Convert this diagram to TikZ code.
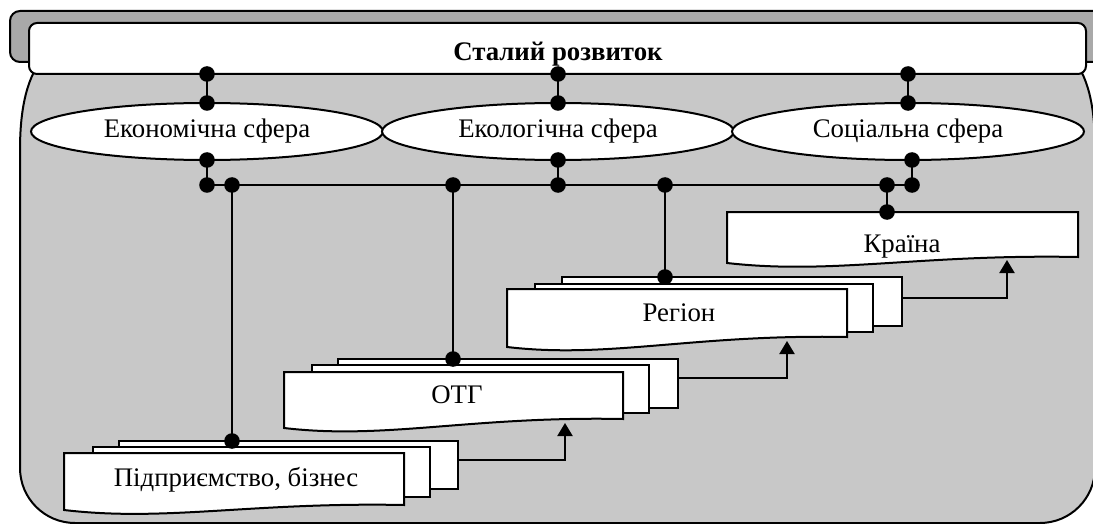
\documentclass[tikz,border=0pt]{standalone}
\usepackage{fontspec}
\setmainfont{Liberation Serif}
\usetikzlibrary{shapes.geometric,arrows.meta,calc}
\definecolor{bodygray}{HTML}{C8C8C8}
\definecolor{topgray}{HTML}{A9A9A9}
\newcommand\docshape[5]{%
 \pgfmathsetmacro\dw{#2-#1}%
 \pgfmathsetmacro\ca{#1+0.55*\dw}%
 \pgfmathsetmacro\cb{#1+0.3*\dw}%
 \pgfmathsetmacro\ya{#5-3}%
 \pgfmathsetmacro\yb{#4+12}%
 \draw[fill=white] (#1,#3) -- (#2,#3) -- (#2,#5) .. controls (\ca,\ya) and (\cb,\yb) .. (#1,#4) -- cycle;}
\begin{document}
\begin{tikzpicture}[x=0.5pt,y=-0.5pt, line width=1pt,
  dot/.style={circle,fill=black,inner sep=0pt,minimum size=7.8pt},
  sphere/.style={ellipse,draw,fill=white,minimum width=176pt,minimum height=28.5pt,inner sep=0pt,font=\fontsize{13.4}{16}\selectfont},
  layer/.style={draw,fill=white},
  lbl/.style={font=\fontsize{13.4}{16}\selectfont, inner sep=0pt, anchor=base},
  arr/.style={-{Triangle[length=6.5pt,width=7.5pt]}}]
\useasboundingbox (0,0) rectangle (1093,524);
% frame
\draw[fill=topgray, rounded corners=5pt] (10,11) rectangle (1140,62);
\draw[fill=bodygray] (45,55) .. controls (28,75) and (20,105) .. (20,150) -- (20,468)
  arc[start angle=180,end angle=90,radius=55] -- (1040,523)
  arc[start angle=90,end angle=0,radius=55] -- (1095,150)
  .. controls (1095,105) and (1088,75) .. (1070,55) -- cycle;
\node[draw,fill=white,rounded corners=4pt,minimum width=528.5pt,minimum height=25.5pt,inner sep=0pt] (bar) at (557.5,48.5) {};
\node[lbl,font=\fontsize{13.4}{16}\selectfont\bfseries] (bartext) at (558,61) {Сталий розвиток};
% spheres
\node[sphere] (econ) at (207,131.5) {Економічна сфера};
\node[sphere] (ecol) at (558,131.5) {Екологічна сфера};
\node[sphere] (soc) at (908,131.5) {Соціальна сфера};
% coordinates
\coordinate (t1) at (207,74); \coordinate (t2) at (558,74); \coordinate (t3) at (908,74);
\coordinate (u1) at (207,103); \coordinate (u2) at (558,103); \coordinate (u3) at (908,103);
\coordinate (d1) at (207,160); \coordinate (d2) at (558,160); \coordinate (d3) at (912,160);
\coordinate (b1) at (207,185); \coordinate (bE) at (232,185); \coordinate (bO) at (453,185);
\coordinate (b2) at (558,185); \coordinate (bR) at (665,185); \coordinate (bK) at (887,185);
\coordinate (b3) at (912,185);
\coordinate (eE) at (232,441); \coordinate (eO) at (453,359); \coordinate (eR) at (665,277); \coordinate (eK) at (887,212);
% stacks
\draw[layer] (119,441) rectangle (458,489);
\draw[layer] (93,447) rectangle (430,497);
\docshape{64}{404}{453}{510}{505}
\draw[layer] (338,359) rectangle (678,408);
\draw[layer] (312,365) rectangle (649,413);
\docshape{284}{623}{372}{428}{419}
\draw[layer] (562,277) rectangle (902,326);
\draw[layer] (535,284) rectangle (873,332);
\docshape{507}{847}{289}{347}{337}
\docshape{727}{1078}{212}{263}{257}
\node[lbl] (ent) at (236,486) {Підприємство, бізнес};
\node[lbl] (otg) at (457,403.3) {ОТГ};
\node[lbl] (reg) at (679,321.7) {Регіон};
\node[lbl] (kra) at (902,252.7) {Країна};
% connectors
\draw (t1) -- (u1); \draw (t2) -- (u2); \draw (t3) -- (u3);
\draw (d1) -- (b1); \draw (d2) -- (b2); \draw (d3) -- (b3);
\draw (b1) -- (b3);
\draw (bE) -- (eE); \draw (bO) -- (eO); \draw (bR) -- (eR); \draw (bK) -- (eK);
\foreach \p in {t1,t2,t3,u1,u2,u3,d1,d2,d3,b1,bE,bO,b2,bR,bK,b3,eE,eO,eR,eK}
  \node[dot] at (\p) {};
% arrows
\coordinate (a1) at (458,460); \coordinate (h1) at (565,423);
\coordinate (a2) at (678,378); \coordinate (h2) at (787,341);
\coordinate (a3) at (902,298); \coordinate (h3) at (1007,260);
\draw[arr] (a1) -| (h1);
\draw[arr] (a2) -| (h2);
\draw[arr] (a3) -| (h3);
\end{tikzpicture}
\end{document}
